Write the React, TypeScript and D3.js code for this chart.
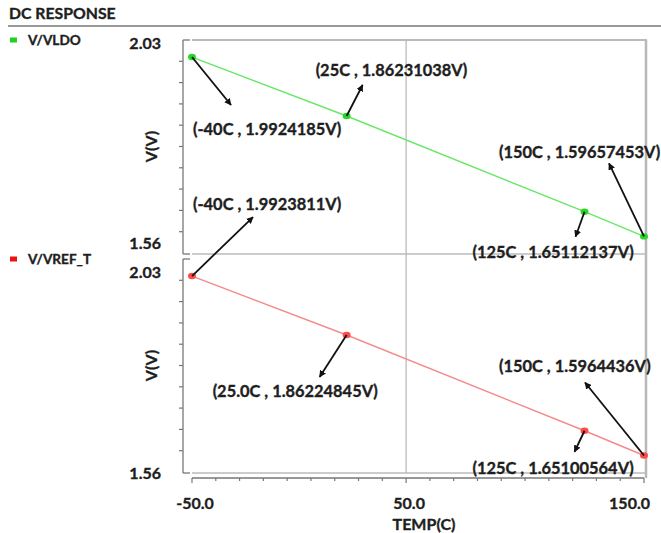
import React from "react";
import * as d3 from "d3";

const temps = [-40, 25, 125, 150];
const vldo = [1.9924185, 1.86231038, 1.65112137, 1.59657453];
const vref = [1.9923811, 1.86224845, 1.65100564, 1.5964436];
const vldoLabels = ["(-40C , 1.9924185V)", "(25C , 1.86231038V)", "(125C , 1.65112137V)", "(150C , 1.59657453V)"];
const vrefLabels = ["(-40C , 1.9923811V)", "(25.0C , 1.86224845V)", "(125C , 1.65100564V)", "(150C , 1.5964436V)"];
const seriesNames = ["V/VLDO", "V/VREF_T"];
const xTickValues = [-40, 50, 150];
const xTickLabels = ["-50.0", "50.0", "150.0"];
const yDomain = [1.56, 2.03];
const yTickLabels = ["2.03", "1.56"];
const title = "DC RESPONSE";
const xTitle = "TEMP(C)";
const yTitle = "V(V)";

const W = 661, H = 533;
const FONT = "Lato, 'Open Sans', sans-serif";
const X0 = 192, X1 = 644;
const TXT = "#1e1e1e";
const panels = [
  { top: 40, bottom: 253, color: "#66e866", dot: "#2ad62a", legendY: 40 },
  { top: 259, bottom: 472, color: "#f58a8a", dot: "#ff4a4a", legendY: 259 },
];
// annotation layout: arrow end offset and text offset relative to point
const annLayout = [
  [
    { ax: 39, ay: 48, tx: 1, ty: 71 },
    { ax: 16, ay: -31, tx: -31, ty: -46 },
    { ax: -9, ay: 25, tx: -112, ty: 40 },
    { ax: -35, ay: -73, tx: -145, ty: -85 },
  ],
  [
    { ax: 61, ay: -59, tx: 1, ty: -73 },
    { ax: -27, ay: 42, tx: -134, ty: 55 },
    { ax: -10, ay: 21, tx: -112, ty: 37 },
    { ax: -59, ay: -73, tx: -145, ty: -90 },
  ],
];

const bold = { fontWeight: 700, fill: TXT, stroke: TXT, strokeWidth: 0.35 } as const;

export default function App() {
  const x = d3.scaleLinear().domain([-40, 150]).range([X0, X1]);
  const minorX = d3.range(-40, 151, 10);
  const seriesVals = [vldo, vref];
  const seriesLabels = [vldoLabels, vrefLabels];

  return (
    <svg width={W} height={H} style={{ display: "block", position: "absolute", left: 0, top: 0 }} fontFamily={FONT}>
      <defs>
        <marker id="ah" viewBox="0 0 10 10" refX="9" refY="5" markerWidth="7" markerHeight="7" orient="auto-start-reverse" markerUnits="userSpaceOnUse">
          <path d="M0,0 L10,5 L0,10 z" fill="#111" />
        </marker>
      </defs>
      <rect width={W} height={H} fill="#fff" />
      <text x={9} y={12} dominantBaseline="central" fontSize={15.8} {...bold}>{title}</text>
      <line x1={8} x2={W} y1={26} y2={26} stroke="#999" strokeWidth={2} />

      {/* frame lines */}
      <line x1={X0} x2={X1 + 3} y1={40} y2={40} stroke="#bbb" strokeWidth={2} />
      <line x1={x(50)} x2={x(50)} y1={40} y2={473} stroke="#b5b5b5" strokeWidth={1.2} />
      <line x1={X1 + 2} x2={X1 + 2} y1={40} y2={478} stroke="#b8b8b8" strokeWidth={2.5} />

      {panels.map((p, pi) => {
        const y = d3.scaleLinear().domain(yDomain).range([p.bottom, p.top]);
        const vals = seriesVals[pi];
        const pts: [number, number][] = temps.map((t, i) => [x(t), y(vals[i])]);
        const line = d3.line()(pts) || "";
        const minorY = d3.range(0, 11).map((k) => yDomain[0] + (k * (yDomain[1] - yDomain[0])) / 10);
        const isTop = pi === 0;
        return (
          <g key={pi}>
            {/* legend */}
            <rect x={10} y={p.legendY - 2.5} width={7} height={5} fill={pi === 0 ? "#22d022" : "#ee1111"} />
            <text x={28} y={p.legendY} dominantBaseline="central" fontSize={13.6} {...bold}>{seriesNames[pi]}</text>
            {/* bottom frame of panel */}
            <line x1={X0} x2={X1 + 3} y1={p.bottom + 1} y2={p.bottom + 1} stroke="#bbb" strokeWidth={1.5} />
            {/* y axis */}
            <line x1={183} x2={183} y1={p.top} y2={p.bottom + 1} stroke="#777" strokeWidth={1.3} />
            <line x1={183} x2={190} y1={p.top} y2={p.top} stroke="#777" strokeWidth={1.3} />
            <line x1={183} x2={190} y1={p.bottom + 1} y2={p.bottom + 1} stroke="#777" strokeWidth={1.3} />
            {minorY.slice(1, 10).map((v, k) => (
              <line key={k} x1={179} x2={183} y1={y(v)} y2={y(v)} stroke="#777" strokeWidth={1.2} />
            ))}
            <text x={161} y={y(yDomain[1]) + (isTop ? 2 : 12)} textAnchor="end" dominantBaseline="central" fontSize={16} {...bold}>{yTickLabels[0]}</text>
            <text x={161} y={y(yDomain[0]) + (isTop ? -11 : 0)} textAnchor="end" dominantBaseline="central" fontSize={16} {...bold}>{yTickLabels[1]}</text>
            <text transform={`translate(150,${(p.top + p.bottom) / 2}) rotate(-90)`} textAnchor="middle" dominantBaseline="central" fontSize={16} {...bold}>{yTitle}</text>
            {/* series */}
            <path d={line} fill="none" stroke={p.color} strokeWidth={1.4} />
            {pts.map((pt, i) => (
              <ellipse key={i} cx={pt[0]} cy={pt[1]} rx={4} ry={3.2} fill={p.dot} />
            ))}
            {/* annotations */}
            {pts.map((pt, i) => {
              const a = annLayout[pi][i];
              return (
                <g key={"a" + i}>
                  <line x1={pt[0]} y1={pt[1]} x2={pt[0] + a.ax} y2={pt[1] + a.ay} stroke="#111" strokeWidth={1.8} markerEnd="url(#ah)" />
                  <text x={pt[0] + a.tx} y={pt[1] + a.ty} dominantBaseline="central" fontSize={16.4} {...bold}>{seriesLabels[pi][i]}</text>
                </g>
              );
            })}
          </g>
        );
      })}

      {/* x axis */}
      <line x1={X0} x2={X1} y1={478} y2={478} stroke="#777" strokeWidth={1.3} />
      {minorX.map((v) => {
        const major = xTickValues.includes(v);
        return <line key={v} x1={x(v)} x2={x(v)} y1={478} y2={major ? 483 : 481} stroke="#777" strokeWidth={1.2} />;
      })}
      {xTickValues.map((v, i) => (
        <text key={v} x={i === xTickValues.length - 1 ? 650 : x(v) + 3} y={502} textAnchor={i === xTickValues.length - 1 ? "end" : "middle"} dominantBaseline="central" fontSize={16} {...bold}>{xTickLabels[i]}</text>
      ))}
      <text x={424} y={523} textAnchor="middle" dominantBaseline="central" fontSize={16} {...bold}>{xTitle}</text>
    </svg>
  );
}
